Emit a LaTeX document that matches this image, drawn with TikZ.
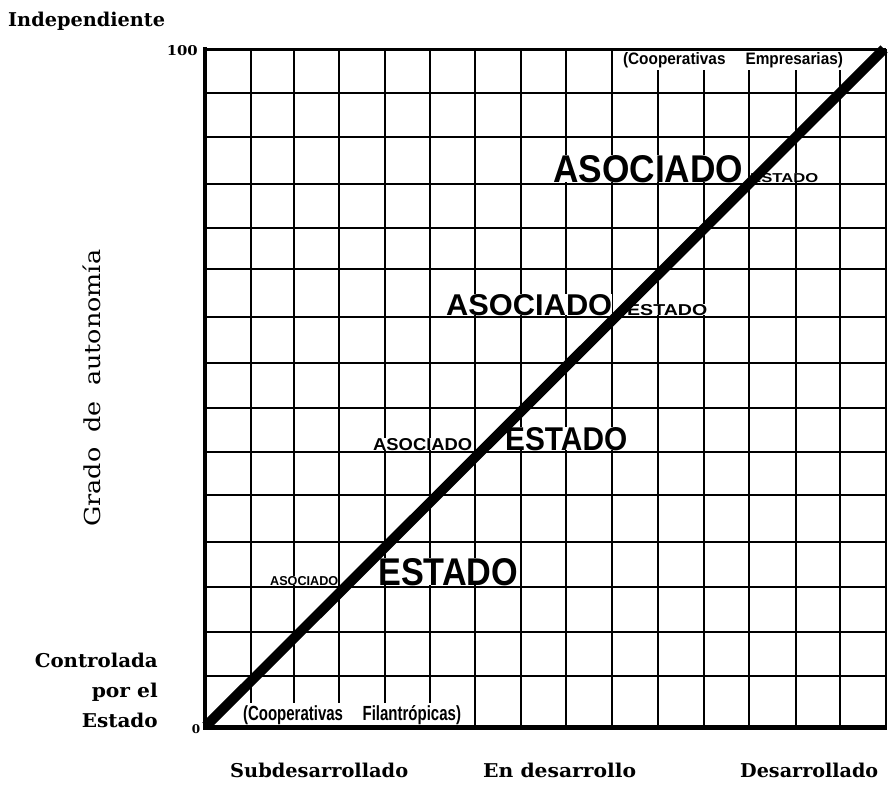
\documentclass[tikz,border=0pt]{standalone}
\usepackage{fontspec}
\usepackage{graphicx}
\setmainfont{DejaVu Serif}
\newfontfamily\hsans{Liberation Sans}
\newcommand{\fitwh}[3]{\resizebox{#1}{#2}{#3}}
\tikzset{
  gridline/.style={line width=1.8pt, black},
  slablbl/.style={inner sep=0pt, font=\bfseries},
  capslbl/.style={inner sep=0pt, fill=white, font=\hsans\bfseries},
  coopbox/.style={fill=white, inner xsep=4pt, inner ysep=2pt, font=\hsans\bfseries},
}
\begin{document}
\begin{tikzpicture}[x=1pt,y=-1pt]
\useasboundingbox[fill=white] (0,0) rectangle (888,787);
% vertical grid lines
\foreach \x in {251,294,339,385,430,475,521,566,612,658,704,749,796,840}
  \draw[gridline] (\x,49) -- (\x,727);
% white-backed labels inside the grid
\node[coopbox] (empr) at (733,60) {\fitwh{220pt}{12pt}{(Cooperativas\hspace{1.3em}Empresarias)}};
\node[coopbox] (filan) at (352,715) {\fitwh{218pt}{15pt}{(Cooperativas\hspace{1.3em}Filantrópicas)}};
\node[capslbl, anchor=base west] (as1) at (553,182) {\fitwh{190pt}{27pt}{ASOCIADO}};
\node[capslbl, anchor=base west] (es1) at (750,182) {\fitwh{68pt}{9pt}{ESTADO}};
\node[capslbl, anchor=base west] (as2) at (446,315) {\fitwh{166pt}{21pt}{ASOCIADO}};
\node[capslbl, anchor=base west] (es2) at (627,315) {\fitwh{80pt}{11pt}{ESTADO}};
\node[capslbl, anchor=base west] (as3) at (373,450) {\fitwh{99pt}{12pt}{ASOCIADO}};
\node[capslbl, anchor=base west] (es3) at (505,450) {\fitwh{122pt}{23pt}{ESTADO}};
\node[capslbl, anchor=base west] (as4) at (270,585) {\fitwh{68pt}{9pt}{ASOCIADO}};
\node[capslbl, anchor=base west] (es4) at (378,585) {\fitwh{140pt}{27pt}{ESTADO}};
% horizontal grid lines
\foreach \y in {93,137,184,228,269,317,363,408,452,495,542,587,632,676}
  \draw[gridline] (205,\y) -- (886,\y);
% borders
\draw[line width=3pt] (205,49) -- (886,49);
\draw[line width=1.6pt] (886,49) -- (886,727);
\draw[line width=4.5pt] (205,47) -- (205,729);
\draw[line width=5pt] (203,727) -- (887,727);
% diagonal
\coordinate (origin) at (206,726);
\coordinate (topright) at (884,49);
\draw[line width=10pt] (origin) -- (topright);
% axis labels
\node[slablbl, anchor=base west] (indep) at (8,26) {\fitwh{157pt}{\height}{\fontsize{19}{19}\selectfont Independiente}};
\node[slablbl, anchor=base east] (cien) at (198,55) {\fitwh{31pt}{10pt}{100}};
\node[slablbl, anchor=center] (cero) at (196,729) {\fontsize{12}{12}\selectfont 0};
\node[slablbl, anchor=base east] (contr) at (158,667) {\fitwh{123pt}{\height}{\fontsize{19}{19}\selectfont Controlada}};
\node[slablbl, anchor=base east] (porel) at (158,697) {\fitwh{66pt}{\height}{\fontsize{19}{19}\selectfont por el}};
\node[slablbl, anchor=base east] (estado) at (158,727) {\fitwh{76pt}{\height}{\fontsize{19}{19}\selectfont Estado}};
\node[slablbl, anchor=base west] (sub) at (230,777) {\fitwh{178pt}{\height}{\fontsize{19}{19}\selectfont Subdesarrollado}};
\node[slablbl, anchor=base west] (endes) at (483,777) {\fitwh{153pt}{\height}{\fontsize{19}{19}\selectfont En desarrollo}};
\node[slablbl, anchor=base west] (desa) at (740,777) {\fitwh{138pt}{\height}{\fontsize{19}{19}\selectfont Desarrollado}};
\node[inner sep=0pt, rotate=90, anchor=base west] (grado) at (100,527) {\fitwh{277pt}{\height}{\fontsize{22}{22}\selectfont Grado\hspace{0.6em}de\hspace{0.6em}autonomía}};
\end{tikzpicture}
\end{document}
